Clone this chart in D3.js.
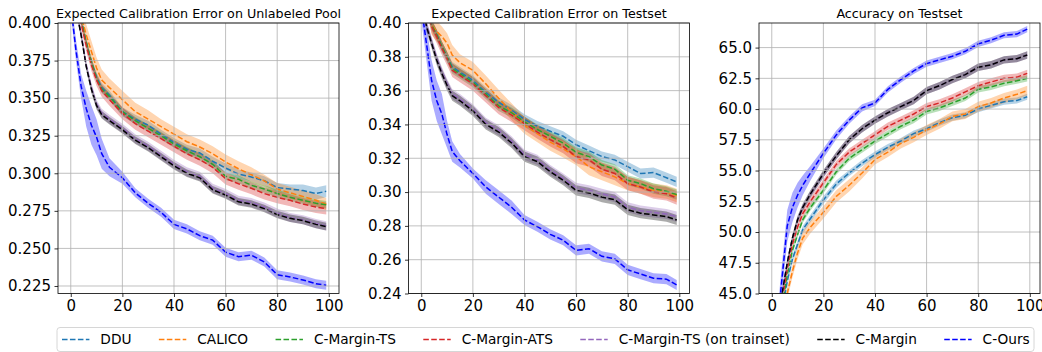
<!DOCTYPE html>
<html>
<head>
<meta charset="utf-8">
<script src="https://cdn.jsdelivr.net/npm/d3@7"></script>
<style>
  body { margin: 0; background: #fff; }
  svg { display: block; font-family: "DejaVu Sans", sans-serif; }
</style>
</head>
<body>
<script>
'use strict';

// x positions (acquisition rounds)
const xs = [0, 2, 4, 6, 8, 10, 12, 15, 20, 25, 30, 35, 40, 45, 50, 55, 60, 65, 70, 75, 80, 85, 90, 95, 99];
const xTicks = [0, 20, 40, 60, 80, 100];

const methods = ["DDU", "CALICO", "C-Margin-TS", "C-Margin-ATS", "C-Margin-TS (on trainset)", "C-Margin", "C-Ours"];
const colors = ["#1f77b4", "#ff7f0e", "#2ca02c", "#d62728", "#9467bd", "#000000", "#0000ff"];

// ECE on unlabeled pool
const poolDDU    = [0.45, 0.43, 0.402, 0.387, 0.374, 0.364, 0.357, 0.352, 0.341, 0.336, 0.332, 0.326, 0.3205, 0.316, 0.3135, 0.308, 0.3035, 0.2995, 0.2975, 0.295, 0.2905, 0.2895, 0.2885, 0.2865, 0.288];
const poolCALICO = [0.46, 0.44, 0.405, 0.392, 0.381, 0.370, 0.362, 0.357, 0.349, 0.341, 0.336, 0.331, 0.326, 0.321, 0.3175, 0.313, 0.3075, 0.303, 0.299, 0.295, 0.2895, 0.287, 0.2845, 0.282, 0.2795];
const poolTS     = [0.45, 0.43, 0.402, 0.387, 0.374, 0.363, 0.356, 0.351, 0.341, 0.335, 0.330, 0.325, 0.3195, 0.315, 0.311, 0.306, 0.298, 0.296, 0.292, 0.2895, 0.2865, 0.284, 0.282, 0.280, 0.279];
const poolATS    = [0.45, 0.43, 0.400, 0.385, 0.372, 0.362, 0.355, 0.349, 0.340, 0.333, 0.328, 0.323, 0.318, 0.313, 0.309, 0.304, 0.2965, 0.293, 0.290, 0.2865, 0.284, 0.282, 0.2795, 0.2775, 0.2765];
const poolTSTrain= [0.43, 0.41, 0.393, 0.372, 0.357, 0.346, 0.340, 0.336, 0.330, 0.323, 0.318, 0.312, 0.306, 0.301, 0.298, 0.290, 0.2865, 0.282, 0.2805, 0.2775, 0.2735, 0.2705, 0.269, 0.2665, 0.265];
const poolMargin = [0.43, 0.41, 0.392, 0.371, 0.356, 0.345, 0.339, 0.335, 0.329, 0.322, 0.317, 0.311, 0.305, 0.300, 0.297, 0.289, 0.2855, 0.281, 0.2795, 0.2765, 0.2725, 0.270, 0.2685, 0.266, 0.2645];
const poolOurs   = [0.412, 0.382, 0.358, 0.343, 0.332, 0.324, 0.313, 0.304, 0.297, 0.287, 0.280, 0.274, 0.266, 0.263, 0.2585, 0.2555, 0.2475, 0.2445, 0.2455, 0.241, 0.2325, 0.231, 0.229, 0.2265, 0.2255];

const poolDDUStd    = [0.003, 0.003, 0.003, 0.003, 0.003, 0.003, 0.003, 0.003, 0.003, 0.003, 0.003, 0.003, 0.003, 0.003, 0.003, 0.003, 0.003, 0.003, 0.003, 0.003, 0.003, 0.003, 0.004, 0.004, 0.004];
const poolCALICOStd = [0.007, 0.007, 0.007, 0.007, 0.007, 0.007, 0.007, 0.006, 0.006, 0.006, 0.006, 0.005, 0.005, 0.005, 0.005, 0.005, 0.005, 0.005, 0.005, 0.004, 0.004, 0.004, 0.004, 0.004, 0.004];
const poolTSStd     = [0.0025, 0.0025, 0.0025, 0.0025, 0.0025, 0.0025, 0.0025, 0.0025, 0.0025, 0.0025, 0.0025, 0.0025, 0.0025, 0.0025, 0.0025, 0.0025, 0.0025, 0.0025, 0.0025, 0.0025, 0.0025, 0.0025, 0.0025, 0.0025, 0.0025];
const poolATSStd    = [0.004, 0.004, 0.004, 0.004, 0.004, 0.004, 0.004, 0.004, 0.004, 0.004, 0.004, 0.004, 0.004, 0.004, 0.004, 0.004, 0.004, 0.004, 0.004, 0.004, 0.004, 0.004, 0.004, 0.004, 0.004];
const poolTSTrainStd= [0.003, 0.003, 0.003, 0.003, 0.003, 0.003, 0.003, 0.003, 0.003, 0.003, 0.003, 0.003, 0.003, 0.003, 0.003, 0.003, 0.003, 0.003, 0.003, 0.003, 0.003, 0.003, 0.003, 0.003, 0.003];
const poolMarginStd = [0.0025, 0.0025, 0.0025, 0.0025, 0.0025, 0.0025, 0.0025, 0.0025, 0.0025, 0.0025, 0.0025, 0.0025, 0.0025, 0.0025, 0.0025, 0.0025, 0.0025, 0.0025, 0.0025, 0.0025, 0.0025, 0.0025, 0.0025, 0.0025, 0.0025];
const poolOursStd   = [0.006, 0.007, 0.008, 0.012, 0.013, 0.012, 0.010, 0.006, 0.004, 0.003, 0.003, 0.003, 0.003, 0.003, 0.003, 0.003, 0.003, 0.003, 0.003, 0.003, 0.003, 0.003, 0.003, 0.003, 0.003];

// ECE on testset
const testDDU    = [0.43, 0.41, 0.399, 0.393, 0.386, 0.380, 0.374, 0.371, 0.366, 0.359, 0.353, 0.3485, 0.343, 0.339, 0.336, 0.333, 0.328, 0.3245, 0.321, 0.319, 0.315, 0.311, 0.3115, 0.3085, 0.306];
const testCALICO = [0.44, 0.42, 0.399, 0.395, 0.392, 0.388, 0.381, 0.3765, 0.372, 0.364, 0.3555, 0.3475, 0.3395, 0.3345, 0.3295, 0.3255, 0.321, 0.315, 0.312, 0.309, 0.305, 0.303, 0.301, 0.300, 0.298];
const testTS     = [0.43, 0.41, 0.399, 0.393, 0.386, 0.380, 0.373, 0.370, 0.365, 0.358, 0.351, 0.347, 0.3415, 0.337, 0.333, 0.329, 0.3235, 0.321, 0.316, 0.3135, 0.307, 0.305, 0.302, 0.3005, 0.2985];
const testATS    = [0.43, 0.41, 0.398, 0.392, 0.385, 0.379, 0.372, 0.369, 0.364, 0.357, 0.350, 0.3455, 0.3405, 0.3355, 0.331, 0.327, 0.321, 0.319, 0.3135, 0.311, 0.305, 0.303, 0.300, 0.299, 0.2965];
const testTSTrain= [0.42, 0.399, 0.389, 0.379, 0.371, 0.364, 0.358, 0.355, 0.349, 0.341, 0.3365, 0.330, 0.322, 0.319, 0.313, 0.308, 0.3025, 0.301, 0.299, 0.297, 0.291, 0.289, 0.288, 0.287, 0.2855];
const testMargin = [0.42, 0.398, 0.388, 0.378, 0.370, 0.363, 0.357, 0.354, 0.348, 0.340, 0.3355, 0.329, 0.321, 0.318, 0.312, 0.307, 0.301, 0.2995, 0.297, 0.2955, 0.2895, 0.2875, 0.2865, 0.2855, 0.2835];
const testOurs   = [0.41, 0.388, 0.366, 0.354, 0.346, 0.334, 0.324, 0.3185, 0.311, 0.303, 0.297, 0.291, 0.2835, 0.2795, 0.275, 0.2715, 0.2655, 0.2665, 0.262, 0.2605, 0.254, 0.2515, 0.249, 0.2485, 0.245];

const testDDUStd    = [0.003, 0.003, 0.003, 0.003, 0.003, 0.003, 0.003, 0.003, 0.003, 0.003, 0.003, 0.003, 0.003, 0.003, 0.003, 0.003, 0.003, 0.003, 0.003, 0.003, 0.003, 0.003, 0.003, 0.003, 0.003];
const testCALICOStd = [0.006, 0.006, 0.006, 0.006, 0.006, 0.006, 0.006, 0.005, 0.005, 0.005, 0.005, 0.005, 0.005, 0.005, 0.005, 0.005, 0.005, 0.005, 0.005, 0.005, 0.004, 0.004, 0.004, 0.004, 0.004];
const testTSStd     = [0.003, 0.003, 0.003, 0.003, 0.003, 0.003, 0.003, 0.003, 0.003, 0.003, 0.003, 0.003, 0.003, 0.003, 0.003, 0.003, 0.003, 0.003, 0.003, 0.003, 0.003, 0.003, 0.003, 0.003, 0.003];
const testATSStd    = [0.004, 0.004, 0.004, 0.004, 0.004, 0.004, 0.004, 0.004, 0.004, 0.004, 0.004, 0.004, 0.004, 0.004, 0.004, 0.004, 0.004, 0.004, 0.004, 0.004, 0.004, 0.004, 0.004, 0.004, 0.004];
const testTSTrainStd= [0.003, 0.003, 0.003, 0.003, 0.003, 0.003, 0.003, 0.003, 0.003, 0.003, 0.003, 0.003, 0.003, 0.003, 0.003, 0.003, 0.003, 0.003, 0.003, 0.003, 0.003, 0.003, 0.003, 0.003, 0.003];
const testMarginStd = [0.003, 0.003, 0.003, 0.003, 0.003, 0.003, 0.003, 0.003, 0.003, 0.003, 0.003, 0.003, 0.003, 0.003, 0.003, 0.003, 0.003, 0.003, 0.003, 0.003, 0.003, 0.003, 0.003, 0.003, 0.003];
const testOursStd   = [0.008, 0.010, 0.012, 0.012, 0.012, 0.008, 0.006, 0.004, 0.003, 0.004, 0.004, 0.004, 0.003, 0.003, 0.003, 0.003, 0.003, 0.003, 0.003, 0.003, 0.003, 0.003, 0.003, 0.003, 0.003];

// accuracy on testset
const accDDU     = [36.5, 40.0, 43.5, 46.0, 47.8, 49.0, 50.2, 51.1, 52.6, 53.9, 54.8, 55.6, 56.3, 56.9, 57.4, 58.0, 58.4, 58.9, 59.3, 59.5, 60.0, 60.3, 60.6, 60.7, 61.0];
const accCALICO  = [36.0, 39.5, 42.5, 45.0, 46.8, 48.3, 49.5, 50.4, 51.6, 52.9, 53.8, 54.8, 55.9, 56.5, 57.2, 57.7, 58.3, 58.8, 59.4, 59.6, 60.2, 60.5, 60.9, 61.2, 61.5];
const accTS      = [37.0, 40.5, 44.0, 46.5, 48.5, 49.8, 51.0, 52.0, 53.4, 54.9, 56.0, 56.7, 57.4, 58.0, 58.6, 59.1, 59.8, 60.1, 60.5, 60.9, 61.6, 61.8, 62.1, 62.3, 62.5];
const accATS     = [37.5, 41.0, 44.5, 47.0, 49.0, 50.4, 51.5, 52.5, 54.0, 55.5, 56.5, 57.2, 57.9, 58.6, 59.1, 59.6, 60.2, 60.5, 60.9, 61.4, 61.9, 62.2, 62.5, 62.6, 62.9];
const accTSTrain = [38.0, 41.5, 45.0, 47.5, 49.5, 51.0, 52.0, 53.1, 54.7, 56.2, 57.5, 58.4, 59.1, 59.7, 60.2, 60.7, 61.5, 61.9, 62.4, 62.8, 63.4, 63.6, 64.0, 64.1, 64.4];
const accMargin  = [38.0, 41.5, 45.0, 47.5, 49.5, 51.0, 52.0, 53.1, 54.75, 56.2, 57.5, 58.4, 59.1, 59.7, 60.2, 60.7, 61.5, 61.9, 62.4, 62.8, 63.4, 63.6, 64.0, 64.1, 64.4];
const accOurs    = [38.0, 42.0, 46.3, 50.5, 52.0, 53.0, 53.8, 54.8, 56.4, 57.9, 59.1, 60.1, 60.5, 61.6, 62.4, 63.1, 63.7, 64.0, 64.3, 64.7, 65.3, 65.6, 66.0, 66.1, 66.5];

const accDDUStd     = [0.3, 0.3, 0.3, 0.3, 0.3, 0.3, 0.3, 0.3, 0.3, 0.3, 0.25, 0.25, 0.25, 0.25, 0.25, 0.25, 0.25, 0.25, 0.25, 0.25, 0.25, 0.25, 0.25, 0.25, 0.25];
const accCALICOStd  = [0.5, 0.5, 0.5, 0.5, 0.5, 0.5, 0.5, 0.5, 0.5, 0.5, 0.5, 0.45, 0.4, 0.4, 0.4, 0.4, 0.4, 0.4, 0.4, 0.4, 0.4, 0.4, 0.4, 0.4, 0.4];
const accTSStd      = [0.25, 0.25, 0.25, 0.25, 0.25, 0.25, 0.25, 0.25, 0.25, 0.25, 0.25, 0.25, 0.25, 0.25, 0.25, 0.25, 0.25, 0.25, 0.25, 0.25, 0.25, 0.25, 0.25, 0.25, 0.25];
const accATSStd     = [0.3, 0.3, 0.3, 0.3, 0.3, 0.3, 0.3, 0.3, 0.3, 0.3, 0.3, 0.3, 0.3, 0.3, 0.3, 0.3, 0.3, 0.3, 0.3, 0.3, 0.3, 0.3, 0.3, 0.3, 0.3];
const accTSTrainStd = [0.3, 0.3, 0.3, 0.3, 0.3, 0.3, 0.3, 0.3, 0.3, 0.3, 0.3, 0.3, 0.3, 0.3, 0.3, 0.3, 0.3, 0.3, 0.3, 0.3, 0.3, 0.3, 0.3, 0.3, 0.3];
const accMarginStd  = [0.3, 0.3, 0.3, 0.3, 0.3, 0.3, 0.3, 0.3, 0.3, 0.3, 0.3, 0.3, 0.3, 0.3, 0.3, 0.3, 0.3, 0.3, 0.3, 0.3, 0.3, 0.3, 0.3, 0.3, 0.3];
const accOursStd    = [1.0, 1.1, 1.2, 1.3, 1.2, 1.0, 0.8, 0.6, 0.4, 0.35, 0.3, 0.3, 0.25, 0.25, 0.25, 0.25, 0.25, 0.25, 0.25, 0.25, 0.25, 0.25, 0.25, 0.25, 0.25];

const poolTicks = [0.225, 0.250, 0.275, 0.300, 0.325, 0.350, 0.375, 0.400];
const testTicks = [0.24, 0.26, 0.28, 0.30, 0.32, 0.34, 0.36, 0.38, 0.40];
const accTicks = [45.0, 47.5, 50.0, 52.5, 55.0, 57.5, 60.0, 62.5, 65.0];

(function() {

  let svg = d3.select('body').append('svg')
    .attr('width', 1042)
    .attr('height', 352);

  let panels = [
    { title: "Expected Calibration Error on Unlabeled Pool", ylim: [0.22, 0.40], ticks: poolTicks, fmt: d3.format('.3f'),
      mean: [poolDDU, poolCALICO, poolTS, poolATS, poolTSTrain, poolMargin, poolOurs],
      std: [poolDDUStd, poolCALICOStd, poolTSStd, poolATSStd, poolTSTrainStd, poolMarginStd, poolOursStd] },
    { title: "Expected Calibration Error on Testset", ylim: [0.24, 0.40], ticks: testTicks, fmt: d3.format('.2f'),
      mean: [testDDU, testCALICO, testTS, testATS, testTSTrain, testMargin, testOurs],
      std: [testDDUStd, testCALICOStd, testTSStd, testATSStd, testTSTrainStd, testMarginStd, testOursStd] },
    { title: "Accuracy on Testset", ylim: [45, 67], ticks: accTicks, fmt: d3.format('.1f'),
      mean: [accDDU, accCALICO, accTS, accATS, accTSTrain, accMargin, accOurs],
      std: [accDDUStd, accCALICOStd, accTSStd, accATSStd, accTSTrainStd, accMarginStd, accOursStd] }
  ];

  let top = 23, bottom = 293.5, width = 281;

  panels.forEach(function(p, i) {
    let left = 58 + i * 350.5;
    let xScale = d3.scaleLinear().domain([-4.95, 103.95]).range([left, left + width]);
    let yScale = d3.scaleLinear().domain(p.ylim).range([bottom, top]);

    let g = svg.append('g');

    g.append('clipPath').attr('id', 'clip' + i)
      .append('rect')
      .attr('x', left).attr('y', top)
      .attr('width', width).attr('height', bottom - top);

    let plot = g.append('g').attr('clip-path', 'url(#clip' + i + ')');

    // bands first
    p.mean.forEach(function(vals, k) {
      let rows = xs.map((x, j) => ({ x: x, v: vals[j], s: p.std[k][j] }));
      let area = d3.area()
        .x(d => xScale(d.x))
        .y0(d => yScale(d.v - d.s))
        .y1(d => yScale(d.v + d.s));
      plot.append('path')
        .attr('d', area(rows))
        .attr('fill', colors[k])
        .attr('fill-opacity', 0.33);
    });

    // grid
    xTicks.forEach(function(t) {
      g.append('line')
        .attr('x1', xScale(t)).attr('x2', xScale(t))
        .attr('y1', top).attr('y2', bottom)
        .attr('stroke', '#b0b0b0').attr('stroke-width', 0.8);
    });
    p.ticks.forEach(function(t) {
      g.append('line')
        .attr('x1', left).attr('x2', left + width)
        .attr('y1', yScale(t)).attr('y2', yScale(t))
        .attr('stroke', '#b0b0b0').attr('stroke-width', 0.8);
    });

    // mean lines
    p.mean.forEach(function(vals, k) {
      let rows = xs.map((x, j) => ({ x: x, v: vals[j] }));
      let line = d3.line().x(d => xScale(d.x)).y(d => yScale(d.v));
      plot.append('path')
        .attr('d', line(rows))
        .attr('fill', 'none')
        .attr('stroke', colors[k])
        .attr('stroke-width', 1.5)
        .attr('stroke-dasharray', '5.55,2.4');
    });

    // axes
    let xAxis = d3.axisBottom(xScale).tickValues(xTicks).tickSize(3.5).tickPadding(3.5);
    let gx = g.append('g').attr('transform', 'translate(0,' + bottom + ')').call(xAxis);
    let yAxis = d3.axisLeft(yScale).tickValues(p.ticks).tickFormat(p.fmt).tickSize(3.5).tickPadding(3.5);
    let gy = g.append('g').attr('transform', 'translate(' + left + ',0)').call(yAxis);
    [gx, gy].forEach(function(a) {
      a.select('.domain').remove();
      a.selectAll('text').style('font-size', '15px').style('font-family', '"DejaVu Sans"').attr('fill', '#000');
      a.selectAll('line').attr('stroke', '#000').attr('stroke-width', 0.8);
    });

    g.append('rect')
      .attr('x', left).attr('y', top)
      .attr('width', width).attr('height', bottom - top)
      .attr('fill', 'none').attr('stroke', '#000').attr('stroke-width', 0.8);

    g.append('text')
      .attr('x', left + width / 2)
      .attr('y', 17.5)
      .attr('text-anchor', 'middle')
      .style('font-size', '12.7px')
      .text(p.title);
  });

  // legend
  let legend = svg.append('g');
  legend.append('rect')
    .attr('x', 57).attr('y', 327.5)
    .attr('width', 977).attr('height', 24)
    .attr('rx', 3)
    .attr('fill', '#fff').attr('fill-opacity', 0.8)
    .attr('stroke', '#cccccc').attr('stroke-width', 0.8);

  let fs = 13.7;
  let cx = 62, cy = 339.5;
  methods.forEach(function(m, k) {
    legend.append('line')
      .attr('x1', cx).attr('x2', cx + 2 * fs)
      .attr('y1', cy).attr('y2', cy)
      .attr('stroke', colors[k]).attr('stroke-width', 1.5)
      .attr('stroke-dasharray', '5.55,2.4');
    let t = legend.append('text')
      .attr('x', cx + 2.8 * fs)
      .attr('y', cy)
      .attr('dy', '0.36em')
      .style('font-size', fs + 'px')
      .text(m);
    cx += 2.8 * fs + t.node().getComputedTextLength() + 2 * fs;
  });

})();
</script>
</body>
</html>
